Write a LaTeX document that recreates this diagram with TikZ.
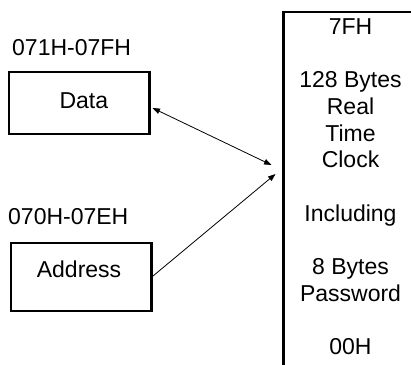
\documentclass[tikz,border=0pt]{standalone}
\usepackage{fontspec}
\setmainfont{Liberation Sans}
\usetikzlibrary{arrows.meta}
\tikzset{
  box/.style={draw, line width=2.4pt, inner sep=0pt},
  txt/.style={font=\fontsize{23}{26.67}\selectfont, inner sep=0pt},
  conn/.style={line width=0.8pt},
  tip/.tip={Triangle[length=7.5pt,width=5.5pt]}
}
\begin{document}
\begin{tikzpicture}[x=1pt,y=-1pt]
\clip (0,0) rectangle (411,364);
% boxes
\node[box, minimum width=140.3pt, minimum height=61.6pt] (data) at (79.35,103) {};
\node[box, minimum width=140.3pt, minimum height=67.6pt] (addr) at (81.35,277) {};
\node[box, anchor=north west, minimum width=137pt, minimum height=380pt] (rtc) at (282.2,10.5) {};
% texts
\node[txt] (datatext) at ([xshift=4.5pt,yshift=2.2pt]data.center) {Data};
\node[txt] (addrtext) at ([xshift=-2.3pt,yshift=8.2pt]addr.center) {Address};
\node[txt, anchor=base west] (datalbl) at (12,55.5) {071H-07FH};
\node[txt, anchor=base west] (addrlbl) at (8,224) {070H-07EH};
\node[txt, align=center, anchor=north] (rtctext) at (350.5,18.5)
  {7FH\\\mbox{}\\128 Bytes\\Real\\Time\\Clock\\\mbox{}\\Including\\\mbox{}\\8 Bytes\\Password\\\mbox{}\\00H};
% connectors
\coordinate (dend) at (271.5,165);
\coordinate (aend) at (275.5,174);
\coordinate (dstart) at (152.5,108);
\coordinate (astart) at (153,276);
\draw[conn, {tip}-{tip}] (dstart) -- (dend);
\draw[conn, -{tip}] (astart) -- (aend);
\end{tikzpicture}
\end{document}
